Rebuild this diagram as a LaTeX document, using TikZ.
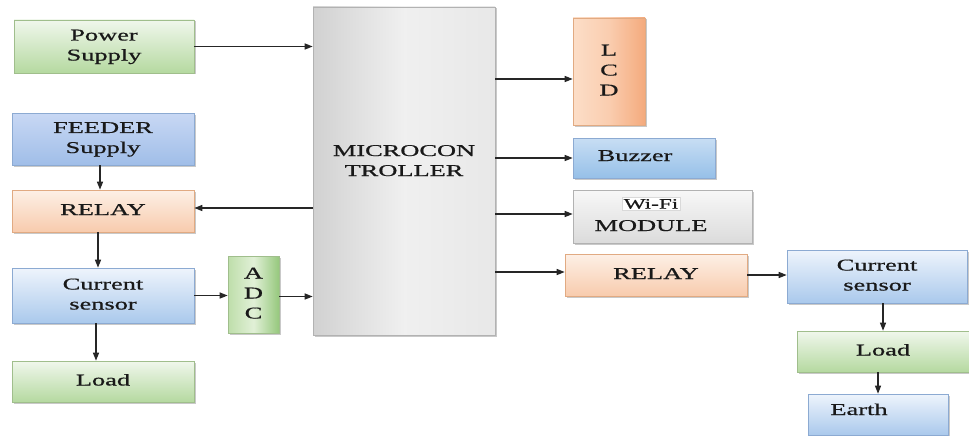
\documentclass[tikz,border=0pt]{standalone}
\usepackage{graphicx}
\usepackage{fontspec}
\setmainfont{Liberation Serif}[FakeBold=0.6]
\usetikzlibrary{arrows.meta,shadows}
\definecolor{gbot}{RGB}{181,217,160}
\definecolor{gtop}{RGB}{240,247,236}
\definecolor{gdraw}{RGB}{160,190,140}
\definecolor{btop}{RGB}{238,244,252}
\definecolor{bbot}{RGB}{170,201,236}
\definecolor{bdraw}{RGB}{140,170,210}
\definecolor{otop}{RGB}{253,240,230}
\definecolor{obot}{RGB}{248,203,173}
\definecolor{odraw}{RGB}{225,170,130}
\definecolor{ftop}{RGB}{200,216,244}
\definecolor{fmid}{RGB}{238,242,250}
\definecolor{fbot}{RGB}{160,190,232}
\definecolor{aleft}{RGB}{190,222,170}
\definecolor{amid}{RGB}{225,240,215}
\definecolor{aright}{RGB}{150,200,125}
\definecolor{lleft}{RGB}{252,222,200}
\definecolor{lmid}{RGB}{250,205,175}
\definecolor{lright}{RGB}{244,170,125}
\definecolor{ztop}{RGB}{200,222,244}
\definecolor{zbot}{RGB}{150,192,232}
\newcommand\tx[1]{\scalebox{1.6}[1]{\begin{tabular}{@{}c@{}}#1\end{tabular}}}
\begin{document}
\begin{tikzpicture}[x=1pt,y=-1pt,
  box/.style={rectangle, draw=#1, line width=0.6pt, inner sep=0pt, align=center,
     font=\fontsize{16.5}{20}\selectfont, text=black!90,
     drop shadow={shadow xshift=1.5pt, shadow yshift=-1.5pt, fill=black!35, opacity=0.6}},
  gbox/.style={box=gdraw, top color=gtop, bottom color=gbot},
  bbox/.style={box=bdraw, top color=btop, bottom color=bbot},
  obox/.style={box=odraw, top color=otop, bottom color=obot},
  lbl/.style={font=\fontsize{16.5}{20}\selectfont, text=black!90, inner sep=0pt},
  arr/.style={-{Triangle[length=8pt,width=6pt]}, line width=1.2pt, black!85},
  sz/.style 2 args={minimum width=#1pt, minimum height=#2pt}
]
\useasboundingbox (0,0) rectangle (969,436);
\fill[white] (0,0) rectangle (969,436);

% left column
\node[gbox, sz={180}{53}] (power) at (104,46.5) {\tx{Power\\Supply}};
\node[bbox, sz={182}{52}, top color=ftop, middle color=fmid, bottom color=fbot] (feeder) at (103,139) {\tx{FEEDER\\Supply}};
\node[obox, sz={182}{42}] (relayL) at (103,211) {\tx{RELAY}};
\node[bbox, sz={182}{55}] (csL) at (103,295.5) {\tx{Current\\sensor}};
\node[gbox, sz={182}{41}] (loadL) at (103,381.5) {\tx{Load}};
\node[gbox, sz={51}{77}, left color=aleft, right color=aright, middle color=amid] (adc) at (253.5,294.5) {\tx{A\\D\\C}};

% microcontroller
\node[box=black!30, sz={182}{328}, left color=black!18, right color=black!9, middle color=black!6] (micro) at (404,171) {};
\node[lbl] (mtext) at (404,162) {\tx{MICROCON\\TROLLER}};

% right column
\node[obox, sz={72}{107}, left color=lleft, right color=lright, middle color=lmid] (lcd) at (609,71.5) {\tx{L\\C\\D}};
\node[bbox, sz={142}{40}, top color=ztop, bottom color=zbot] (buzzer) at (644,158) {};
\node[lbl] (buzzertext) at (635,157) {\tx{Buzzer}};
\node[box=black!30, sz={179}{53}, top color=black!3, bottom color=black!14] (wifi) at (662.5,216.5) {};
\node[fill=white, draw=black!15, line width=0.5pt, inner sep=1.5pt, font=\fontsize{14.5}{16}\selectfont, text=black!90] (wifitext) at (651,204) {\scalebox{1.6}[1]{Wi-Fi}};
\node[lbl] (modtext) at (651,227) {\tx{MODULE}};
\node[obox, sz={182}{42}] (relayR) at (656,275) {\tx{RELAY}};
\node[bbox, sz={180}{53}] (csR) at (877,276.5) {\tx{Current\\sensor}};
\node[gbox, sz={172}{41}] (loadR) at (883,351.5) {\tx{Load}};
\node[bbox, sz={140}{41}] (earth) at (878,414.5) {};
\node[lbl] (earthtext) at (859,411) {\tx{Earth}};

% connectors
\draw[arr] (power.east) -- (micro.west |- power.east);
\draw[arr] ([xshift=-3pt]feeder.south) -- ([xshift=-3pt]relayL.north);
\draw[arr] ([xshift=-5pt]relayL.south) -- ([xshift=-5pt]csL.north);
\draw[arr] ([xshift=-7pt]csL.south) -- ([xshift=-7pt]loadL.north);
\draw[arr] ([yshift=3pt]micro.west |- relayL.east) -- ([yshift=3pt]relayL.east);
\draw[arr] (csL.east) -- (adc.west |- csL.east);
\draw[arr] ([yshift=-2pt]adc.east) -- ([yshift=-2pt]micro.west |- adc.east);
\draw[arr] ([yshift=-7.5pt]micro.east |- lcd.west) -- ([yshift=-7.5pt]lcd.west);
\draw[arr] (micro.east |- buzzer.west) -- (buzzer.west);
\draw[arr] ([yshift=2.5pt]micro.east |- wifi.west) -- ([yshift=2.5pt]wifi.west);
\draw[arr] ([yshift=3pt]micro.east |- relayR.west) -- ([yshift=3pt]relayR.west);
\draw[arr] (relayR.east) -- (csR.west |- relayR.east);
\draw[arr] (loadR.north |- csR.south) -- (loadR.north);
\draw[arr] (earth.north |- loadR.south) -- (earth.north);
\end{tikzpicture}
\end{document}
